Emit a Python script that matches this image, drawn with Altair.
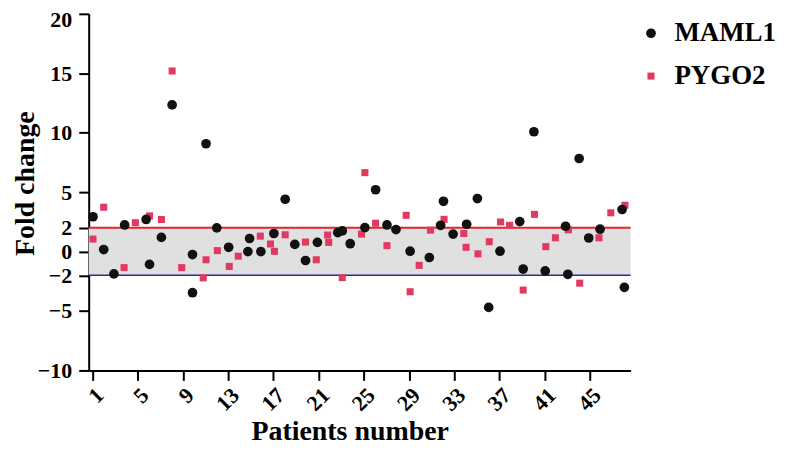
import altair as alt
import pandas as pd

genes = ["MAML1", "PYGO2"]
gene_colors = ["#111111", "#e03a62"]

maml_x = [1.05, 2.0, 2.9, 3.85, 5.75, 6.05, 7.1, 8.05, 9.85, 9.85, 11.05, 12.0, 13.05, 14.75, 14.9,
          15.9, 17.05, 18.05, 18.9, 19.85, 20.9, 22.7, 23.1, 23.8, 25.1, 26.05, 27.05, 27.85, 29.1, 30.8,
          31.8, 32.05, 32.9, 34.1, 35.05, 36.05, 37.05, 38.8, 39.1, 40.05, 41.05, 42.85, 43.05, 44.05, 44.9,
          45.9, 47.85, 48.05]
maml_v = [2.93, 0.17, -1.88, 2.24, 2.7, -1.08, 1.19, 12.34, -0.25, -3.46, 9.07, 1.99, 0.36, 0.0, 1.1,
          0.0, 1.52, 4.4, 0.6, -0.75, 0.77, 1.6, 1.74, 0.66, 2.02, 5.2, 2.24, 1.85, 0.03, -0.5,
          2.21, 4.23, 1.47, 2.3, 4.46, -4.7, 0.03, 2.52, -1.47, 10.08, -1.63, 2.13, -1.91, 7.83, 1.14,
          1.88, 3.54, -3.01]

pygo_x = [1.05, 2.0, 3.8, 4.8, 6.05, 7.1, 8.05, 8.9, 10.8, 11.05, 12.05, 13.1, 13.9, 15.85, 16.75,
          17.1, 18.05, 19.85, 20.8, 21.8, 21.9, 23.1, 24.8, 25.1, 26.05, 27.05, 28.75, 29.1, 29.9, 30.9,
          32.1, 33.85, 34.05, 35.1, 36.1, 37.1, 37.9, 39.1, 40.1, 41.1, 41.95, 43.1, 44.1, 45.8, 46.85,
          48.1]
pygo_v = [1.05, 3.73, -1.35, 2.43, 3.0, 2.7, 15.19, -1.35, -2.21, -0.69, 0.08, -1.25, -0.39, 1.3, 0.64,
          0.02, 1.41, 0.8, -0.69, 1.39, 0.77, -2.19, 1.47, 6.64, 2.38, 0.5, 3.05, -3.38, -1.16, 1.8,
          2.71, 1.52, 0.36, -0.19, 0.83, 2.49, 2.21, -3.24, 3.13, 0.41, 1.16, 1.83, -2.66, 1.16, 3.26,
          3.9]

y_ticks = [-10, -5, -2, 0, 2, 5, 10, 15, 20]
x_ticks = [1, 5, 9, 13, 17, 21, 25, 29, 33, 37, 41, 45]
band_lo = -2
band_hi = 2

rows = [{"Gene": "PYGO2", "Patient": x, "Fold": v} for x, v in zip(pygo_x, pygo_v)]
rows += [{"Gene": "MAML1", "Patient": x, "Fold": v} for x, v in zip(maml_x, maml_v)]
df = pd.DataFrame(rows)
band_df = pd.DataFrame({"lo": [band_lo], "hi": [band_hi]})

W, H = 544, 358
FONT = "Liberation Serif"

xscale = alt.Scale(domain=[0.67, 48.6], nice=False, zero=False)
yscale = alt.Scale(domain=[-10, 20], nice=False, zero=False)

yaxis = alt.Axis(values=y_ticks, grid=False, domainColor="black", domainWidth=2,
                 tickColor="black", tickWidth=2, tickSize=10,
                 labelFont=FONT, labelFontWeight="bold", labelFontSize=22, labelColor="black",
                 labelPadding=7, labelFlush=False, labelOverlap=False,
                 labelOffset=alt.condition("datum.value == 20", alt.value(6), alt.value(0)),
                 title="Fold change", titleFont=FONT, titleFontSize=28, titleFontWeight="bold",
                 titleColor="black", titleX=-55, titleY=170, titleBaseline="alphabetic")
xaxis = alt.Axis(values=x_ticks, grid=False, domainColor="black", domainWidth=2,
                 tickColor="black", tickWidth=2, tickSize=10,
                 labelFont=FONT, labelFontWeight="bold", labelFontSize=22, labelColor="black",
                 labelAngle=315, labelPadding=4, labelFlush=False, labelOverlap=False,
                 title="Patients number", titleFont=FONT, titleFontSize=28, titleFontWeight="bold",
                 titleColor="black", titleX=262, titleY=69, titleBaseline="alphabetic")

band = alt.Chart(band_df).mark_rect(color="#e0e0e0").encode(
    x=alt.value(0), x2=alt.value(W),
    y=alt.Y("lo:Q", scale=yscale, axis=yaxis), y2="hi:Q")
upper = alt.Chart(band_df).mark_rule(color="#e3262c", strokeWidth=2).encode(
    x=alt.value(0), x2=alt.value(W), y=alt.Y("hi:Q", scale=yscale, axis=yaxis))
lower = alt.Chart(band_df).mark_rule(color="#2e2e8c", strokeWidth=1.5).encode(
    x=alt.value(0), x2=alt.value(W), y=alt.Y("lo:Q", scale=yscale, axis=yaxis))

leg = alt.Legend(title=None, orient="none", legendX=551, legendY=6, padding=0,
                 labelFont=FONT, labelFontWeight="bold", labelFontSize=27, labelColor="black",
                 rowPadding=15, labelOffset=10, symbolStrokeWidth=0)

points = alt.Chart(df).mark_point(filled=True, opacity=1, strokeWidth=0).encode(
    x=alt.X("Patient:Q", scale=xscale, axis=xaxis),
    y=alt.Y("Fold:Q", scale=yscale, axis=yaxis),
    color=alt.Color("Gene:N", scale=alt.Scale(domain=genes, range=gene_colors), legend=leg),
    shape=alt.Shape("Gene:N", scale=alt.Scale(domain=genes, range=["circle", "square"]), legend=leg),
    size=alt.Size("Gene:N", scale=alt.Scale(domain=genes, range=[95, 50]), legend=leg),
)

chart = alt.layer(band, upper, lower, points).properties(
    width=W, height=H,
    autosize=alt.AutoSizeParams(type="none"),
    padding={"left": 81, "top": 5, "right": 150, "bottom": 75},
    background="white",
).configure_view(stroke=None)

chart.save("out.html", embed_options={"renderer": "svg", "actions": False})
